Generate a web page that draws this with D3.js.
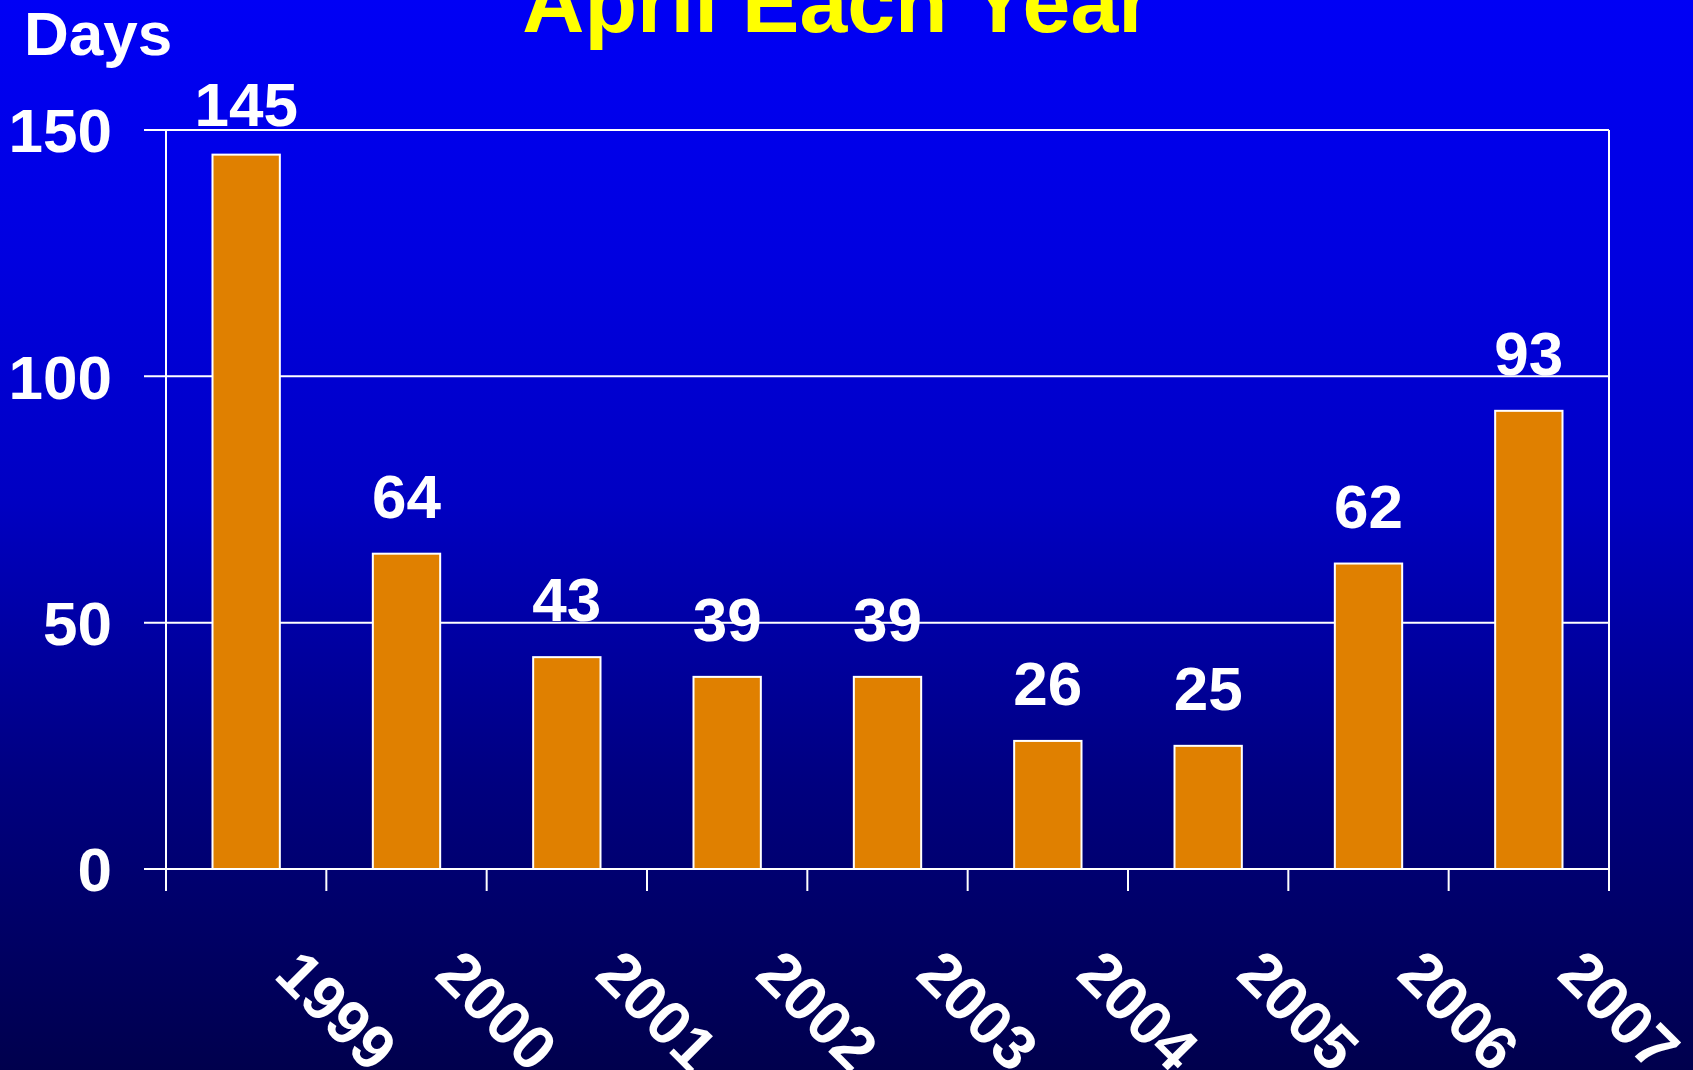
<!DOCTYPE html>
<html lang="en">

<head>
    <meta charset="UTF-8">
    <title>April Each Year</title>
    <script src="https://cdn.jsdelivr.net/npm/d3@7"></script>
    <style>
        * {
            margin: 0;
        }

        body {
            background: #000050;
            overflow: hidden;
        }

        text {
            font-family: Arial, "Liberation Sans", sans-serif;
            font-weight: bold;
        }
    </style>
</head>

<body>
    <svg id="chart"></svg>
    <script>
        // data
        var years = ['1999', '2000', '2001', '2002', '2003', '2004', '2005', '2006', '2007'];
        var days = [145, 64, 43, 39, 39, 26, 25, 62, 93];
        var yTicks = [0, 50, 100, 150];

        var W = 1693, H = 1070;
        // note: "top" is a reserved window prop, so use plot* names
        var plotLeft = 166, plotRight = 1609, plotTop = 130, plotBottom = 869;

        var svg = d3.select('#chart')
            .attr('width', W)
            .attr('height', H);

        // background gradient
        var grad = svg.append('defs').append('linearGradient')
            .attr('id', 'bg')
            .attr('x1', 0).attr('y1', 0).attr('x2', 0).attr('y2', 1);
        grad.append('stop').attr('offset', 0).attr('stop-color', '#0000f5');
        grad.append('stop').attr('offset', 0.24).attr('stop-color', '#0000e0');
        grad.append('stop').attr('offset', 0.47).attr('stop-color', '#0000c2');
        grad.append('stop').attr('offset', 0.73).attr('stop-color', '#000080');
        grad.append('stop').attr('offset', 1).attr('stop-color', '#00004d');

        svg.append('rect')
            .attr('width', W).attr('height', H)
            .attr('fill', 'url(#bg)');

        // scales
        var x = d3.scaleBand().domain(years).range([plotLeft, plotRight]).padding(0);
        var xBar = d3.scaleBand().domain(years).range([plotLeft, plotRight])
            .paddingInner(0.58).paddingOuter(0.29);
        var y = d3.scaleLinear().domain([0, 150]).range([plotBottom, plotTop]);

        // gridlines + y ticks
        svg.append('g').selectAll('line')
            .data(yTicks)
            .enter()
            .append('line')
            .attr('x1', plotLeft - 22)
            .attr('x2', plotRight)
            .attr('y1', function (d) { return y(d); })
            .attr('y2', function (d) { return y(d); })
            .attr('stroke', '#fff')
            .attr('stroke-width', 2);

        svg.append('g').selectAll('text')
            .data(yTicks)
            .enter()
            .append('text')
            .attr('x', 112)
            .attr('y', function (d) { return y(d); })
            .attr('dy', '0.36em')
            .attr('text-anchor', 'end')
            .attr('fill', '#fff')
            .attr('font-size', 62)
            .text(function (d) { return d; });

        // x tick marks at band edges (first and last are the frame sides)
        var edges = years.map(function (d) { return x(d); }).concat([plotRight]);
        svg.append('g').selectAll('line')
            .data(edges)
            .enter()
            .append('line')
            .attr('x1', function (d) { return d; })
            .attr('x2', function (d) { return d; })
            .attr('y1', function (d, i) { return (i === 0 || i === edges.length - 1) ? plotTop : plotBottom; })
            .attr('y2', plotBottom + 22)
            .attr('stroke', '#fff')
            .attr('stroke-width', 2);

        // bars
        svg.append('g').selectAll('rect')
            .data(days)
            .enter()
            .append('rect')
            .attr('x', function (d, i) { return xBar(years[i]); })
            .attr('y', function (d) { return y(d); })
            .attr('width', xBar.bandwidth())
            .attr('height', function (d) { return plotBottom - y(d); })
            .attr('fill', '#e08000')
            .attr('stroke', '#fff')
            .attr('stroke-width', 2);

        // value labels
        svg.append('g').selectAll('text')
            .data(days)
            .enter()
            .append('text')
            .attr('x', function (d, i) { return x(years[i]) + x.bandwidth() / 2; })
            .attr('y', function (d) { return Math.max(y(d) - 36, 126); })
            .attr('text-anchor', 'middle')
            .attr('fill', '#fff')
            .attr('font-size', 62)
            .text(function (d) { return d; });

        // rotated year labels
        svg.append('g').selectAll('text')
            .data(years)
            .enter()
            .append('text')
            .attr('transform', function (d) {
                return 'translate(' + (x(d) + x.bandwidth() / 2 + 91) + ',1010) rotate(45)';
            })
            .attr('text-anchor', 'middle')
            .attr('dy', '0.36em')
            .attr('fill', '#fff')
            .attr('font-size', 62)
            .text(function (d) { return d; });

        // axis title + chart title
        svg.append('text')
            .attr('x', 24).attr('y', 55)
            .attr('fill', '#fff')
            .attr('font-size', 62)
            .text('Days');

        svg.append('text')
            .attr('x', 837).attr('y', 32)
            .attr('text-anchor', 'middle')
            .attr('fill', '#ffff00')
            .attr('font-size', 86)
            .text('April Each Year');
    </script>
</body>

</html>
